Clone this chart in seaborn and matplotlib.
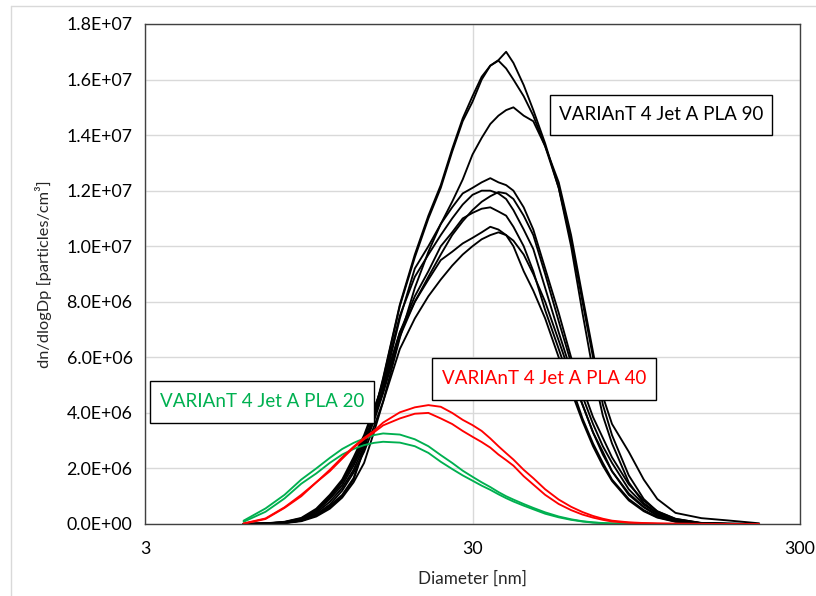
import numpy as np
import pandas as pd
import matplotlib
matplotlib.use("Agg")
import matplotlib.pyplot as plt
from matplotlib.patches import Rectangle
from matplotlib.lines import Line2D
from matplotlib.ticker import FixedLocator, FuncFormatter, NullLocator
import seaborn as sns

# ---------------- data ----------------
diameter_nm = [6, 7, 8, 9, 10, 11, 12, 13, 14, 15, 16, 18, 20, 22, 24, 26, 28, 30, 32, 34,
               36, 38, 40, 43, 46, 50, 55, 60, 65, 70, 75, 80, 90, 100, 110, 125, 150, 180, 225]

pla20_a = [1.2e5, 5.6e5, 1.05e6, 1.6e6, 2.0e6, 2.38e6, 2.7e6, 2.92e6, 3.08e6, 3.2e6, 3.26e6, 3.22e6,
           3.05e6, 2.8e6, 2.48e6, 2.2e6, 1.92e6, 1.7e6, 1.5e6, 1.33e6, 1.15e6, 1.0e6, 8.8e5, 7.2e5,
           5.8e5, 4.2e5, 2.7e5, 1.7e5, 1.0e5, 6e4, 3.5e4, 2e4, 1e4, 5e3, 2e3, 1e3, 0, 0, 0]
pla20_b = [8e4, 4.4e5, 9.2e5, 1.45e6, 1.82e6, 2.2e6, 2.5e6, 2.7e6, 2.84e6, 2.92e6, 2.96e6, 2.93e6,
           2.8e6, 2.56e6, 2.24e6, 1.98e6, 1.75e6, 1.56e6, 1.38e6, 1.23e6, 1.07e6, 9.3e5, 8.1e5, 6.6e5,
           5.3e5, 3.7e5, 2.4e5, 1.5e5, 9e4, 5e4, 3e4, 1.5e4, 8e3, 4e3, 2e3, 1e3, 0, 0, 0]

pla40_a = [2e4, 2.0e5, 6.0e5, 1.05e6, 1.5e6, 1.95e6, 2.4e6, 2.78e6, 3.1e6, 3.35e6, 3.65e6, 4.02e6,
           4.2e6, 4.28e6, 4.22e6, 4.0e6, 3.75e6, 3.56e6, 3.35e6, 3.08e6, 2.8e6, 2.55e6, 2.32e6, 1.95e6,
           1.65e6, 1.25e6, 8.8e5, 6.2e5, 4.3e5, 2.9e5, 1.9e5, 1.2e5, 6e4, 3.5e4, 2e4, 1e4, 5e3, 2e3, 0]
pla40_b = [1e4, 1.8e5, 5.8e5, 1.0e6, 1.5e6, 1.9e6, 2.35e6, 2.75e6, 3.05e6, 3.3e6, 3.55e6, 3.8e6,
           3.97e6, 4.0e6, 3.8e6, 3.6e6, 3.35e6, 3.14e6, 2.95e6, 2.75e6, 2.5e6, 2.3e6, 2.1e6, 1.72e6,
           1.42e6, 1.05e6, 7.2e5, 5.0e5, 3.4e5, 2.3e5, 1.5e5, 9e4, 4.5e4, 2.5e4, 1.5e4, 8e3, 4e3, 1e3, 0]

pla90_h1 = [0, 1e4, 4e4, 1.2e5, 3e5, 6e5, 1.0e6, 1.6e6, 2.7e6, 3.9e6, 5.2e6, 7.85e6,
            9.6e6, 1.1e7, 1.21e7, 1.34e7, 1.45e7, 1.52e7, 1.6e7, 1.65e7, 1.67e7, 1.70e7, 1.66e7, 1.58e7,
            1.49e7, 1.37e7, 1.21e7, 1.0e7, 7.6e6, 5.5e6, 3.9e6, 2.9e6, 1.5e6, 7.5e5, 4e5, 1.6e5, 3e4, 1e4, 0]
pla90_h2 = [0, 1e4, 4e4, 1.2e5, 3.2e5, 6.5e5, 1.05e6, 1.65e6, 2.75e6, 3.95e6, 5.25e6, 7.9e6,
            9.7e6, 1.11e7, 1.22e7, 1.35e7, 1.46e7, 1.54e7, 1.61e7, 1.65e7, 1.668e7, 1.64e7, 1.6e7, 1.54e7,
            1.47e7, 1.36e7, 1.21e7, 1.02e7, 8.0e6, 6.0e6, 4.6e6, 3.6e6, 2.6e6, 1.6e6, 9e5, 4e5, 2.1e5, 1.3e5, 2.5e4]
pla90_h3 = [0, 1e4, 3e4, 1e5, 2.7e5, 5.5e5, 9.5e5, 1.5e6, 2.2e6, 3.3e6, 4.4e6, 6.7e6,
            8.5e6, 9.8e6, 1.08e7, 1.16e7, 1.24e7, 1.33e7, 1.39e7, 1.44e7, 1.47e7, 1.49e7, 1.5e7, 1.47e7,
            1.45e7, 1.36e7, 1.23e7, 1.04e7, 8.2e6, 6.2e6, 4.3e6, 3.2e6, 1.75e6, 9e5, 4.5e5, 1.8e5, 4e4, 1e4, 0]
pla90_m1 = [0, 2e4, 6e4, 1.8e5, 4.5e5, 9e5, 1.4e6, 2.1e6, 2.9e6, 3.8e6, 4.9e6, 7.4e6,
            9.2e6, 1.0e7, 1.08e7, 1.14e7, 1.19e7, 1.21e7, 1.23e7, 1.245e7, 1.23e7, 1.22e7, 1.2e7, 1.14e7,
            1.06e7, 9.2e6, 7.6e6, 6.0e6, 4.9e6, 3.85e6, 3.1e6, 2.4e6, 1.43e6, 8.4e5, 4.6e5, 1.9e5, 3e4, 8e3, 0]
pla90_m2 = [0, 2e4, 7e4, 2e5, 5e5, 1.0e6, 1.55e6, 2.3e6, 3.1e6, 4.1e6, 5.1e6, 7.5e6,
            8.9e6, 9.7e6, 1.04e7, 1.1e7, 1.15e7, 1.185e7, 1.2e7, 1.2e7, 1.19e7, 1.17e7, 1.13e7, 1.06e7,
            9.9e6, 8.5e6, 6.9e6, 5.5e6, 4.3e6, 3.3e6, 2.5e6, 1.9e6, 1.05e6, 6e5, 3e5, 1.1e5, 2e4, 5e3, 0]
pla90_m3 = [0, 1.5e4, 5e4, 1.5e5, 4e5, 8e5, 1.3e6, 1.95e6, 2.8e6, 3.7e6, 4.7e6, 6.75e6,
            8.0e6, 8.9e6, 9.7e6, 1.04e7, 1.09e7, 1.13e7, 1.16e7, 1.18e7, 1.195e7, 1.19e7, 1.17e7, 1.11e7,
            1.04e7, 9.0e6, 7.3e6, 5.8e6, 4.6e6, 3.6e6, 2.8e6, 2.2e6, 1.25e6, 7e5, 3.7e5, 1.4e5, 2.5e4, 6e3, 0]
pla90_m4 = [0, 2e4, 6e4, 1.9e5, 4.8e5, 9.5e5, 1.5e6, 2.2e6, 3.0e6, 3.9e6, 4.8e6, 6.9e6,
            8.2e6, 9.1e6, 1.0e7, 1.05e7, 1.1e7, 1.12e7, 1.135e7, 1.14e7, 1.125e7, 1.11e7, 1.07e7, 1.0e7,
            9.1e6, 7.7e6, 6.3e6, 5.0e6, 3.8e6, 2.9e6, 2.2e6, 1.6e6, 9e5, 5e5, 2.5e5, 9e4, 1.5e4, 4e3, 0]
pla90_m5 = [0, 2.5e4, 8e4, 2.2e5, 5.5e5, 1.05e6, 1.6e6, 2.4e6, 3.2e6, 4.15e6, 5.0e6, 6.9e6,
            8.0e6, 8.8e6, 9.5e6, 9.8e6, 1.01e7, 1.03e7, 1.05e7, 1.07e7, 1.06e7, 1.04e7, 1.0e7, 9.1e6,
            8.4e6, 7.4e6, 6.0e6, 4.8e6, 3.7e6, 2.8e6, 2.1e6, 1.55e6, 8.5e5, 4.6e5, 2.3e5, 8e4, 1.3e4, 3e3, 0]
pla90_m6 = [0, 1e4, 4e4, 1.3e5, 3.5e5, 7e5, 1.2e6, 1.85e6, 2.6e6, 3.5e6, 4.4e6, 6.3e6,
            7.4e6, 8.2e6, 8.8e6, 9.3e6, 9.7e6, 1.0e7, 1.025e7, 1.04e7, 1.05e7, 1.04e7, 1.02e7, 9.7e6,
            9.0e6, 8.0e6, 6.6e6, 5.3e6, 4.3e6, 3.3e6, 2.6e6, 1.9e6, 1.1e6, 6.2e5, 3.2e5, 1.2e5, 2e4, 5e3, 0]

y_ticks = [0, 2e6, 4e6, 6e6, 8e6, 1.0e7, 1.2e7, 1.4e7, 1.6e7, 1.8e7]
x_ticks = [3, 30, 300]

label_90 = "VARIAnT 4 Jet A PLA 90"
label_40 = "VARIAnT 4 Jet A PLA 40"
label_20 = "VARIAnT 4 Jet A PLA 20"

# ---------------- long table ----------------
series = {
    ("PLA 90", "h1"): pla90_h1, ("PLA 90", "h2"): pla90_h2, ("PLA 90", "h3"): pla90_h3,
    ("PLA 90", "m1"): pla90_m1, ("PLA 90", "m2"): pla90_m2, ("PLA 90", "m3"): pla90_m3,
    ("PLA 90", "m4"): pla90_m4, ("PLA 90", "m5"): pla90_m5, ("PLA 90", "m6"): pla90_m6,
    ("PLA 20", "a"): pla20_a, ("PLA 20", "b"): pla20_b,
    ("PLA 40", "a"): pla40_a, ("PLA 40", "b"): pla40_b,
}
rows = []
for (grp, run), vals in series.items():
    for d, v in zip(diameter_nm, vals):
        rows.append({"group": grp, "run": grp + run, "Diameter": d, "dN": v})
df = pd.DataFrame(rows)

# ---------------- plot ----------------
sns.set_theme(style="white")
plt.rcParams["font.family"] = ["Lato", "DejaVu Sans"]

fig = plt.figure(figsize=(8.16, 5.96), dpi=100)
ax = fig.add_axes([145 / 816, 1 - 524 / 596, 655 / 816, 500 / 596])

colors = {"PLA 90": "#000000", "PLA 20": "#00B050", "PLA 40": "#FF0000"}
for grp in ["PLA 90", "PLA 20", "PLA 40"]:
    sub = df[df["group"] == grp]
    sns.lineplot(data=sub, x="Diameter", y="dN", units="run", estimator=None,
                 color=colors[grp], linewidth=1.35, sort=False, ax=ax, legend=False)

ax.set_xscale("log")
ax.set_xlim(3, 300)
ax.set_ylim(0, 1.8e7)
ax.xaxis.set_major_locator(FixedLocator(x_ticks))
ax.xaxis.set_minor_locator(NullLocator())
ax.xaxis.set_major_formatter(FuncFormatter(lambda v, p: f"{v:g}"))
ax.yaxis.set_major_locator(FixedLocator(y_ticks))
ax.yaxis.set_major_formatter(FuncFormatter(lambda v, p: f"{v:.1E}"))

ax.grid(True, which="major", color="#D9D9D9", linewidth=1.0)
ax.set_axisbelow(True)
for s in ax.spines.values():
    s.set_visible(True)
    s.set_color("#404040")
    s.set_linewidth(1.0)
ax.tick_params(axis="both", length=0, labelsize=12.8, colors="#000000")
ax.tick_params(axis="x", pad=12)
ax.tick_params(axis="y", pad=9)

ax.set_xlabel("Diameter [nm]", fontsize=12.3, labelpad=10)
ax.set_ylabel("dn/dlogDp [particles/cm³]", fontsize=11.8, labelpad=10)

# annotation boxes
boxes = [
    (label_90, (550 - 145) / 655, (524 - 135) / 500, 222 / 655, 40 / 500, "#000000"),
    (label_40, (432 - 145) / 655, (524 - 400) / 500, 224 / 655, 42 / 500, "#FF0000"),
    (label_20, (150 - 145) / 655, (524 - 423) / 500, 224 / 655, 42 / 500, "#00B050"),
]
for txt, x0, y0, w, h, c in boxes:
    ax.add_patch(Rectangle((x0, y0), w, h, transform=ax.transAxes, facecolor="white",
                           edgecolor="#000000", linewidth=1.0, zorder=10))
    ax.text(x0 + w / 2, y0 + h / 2, txt, transform=ax.transAxes, ha="center", va="center",
            color=c, fontsize=13.5, zorder=11)

# outer chart frame (light grey), visible at top and left
fig.add_artist(Line2D([11 / 816, 1.0], [1 - 6 / 596, 1 - 6 / 596], color="#D9D9D9", linewidth=1.0))
fig.add_artist(Line2D([11 / 816, 11 / 816], [0.0, 1 - 6 / 596], color="#D9D9D9", linewidth=1.0))

fig.savefig("out.png", dpi=100)
